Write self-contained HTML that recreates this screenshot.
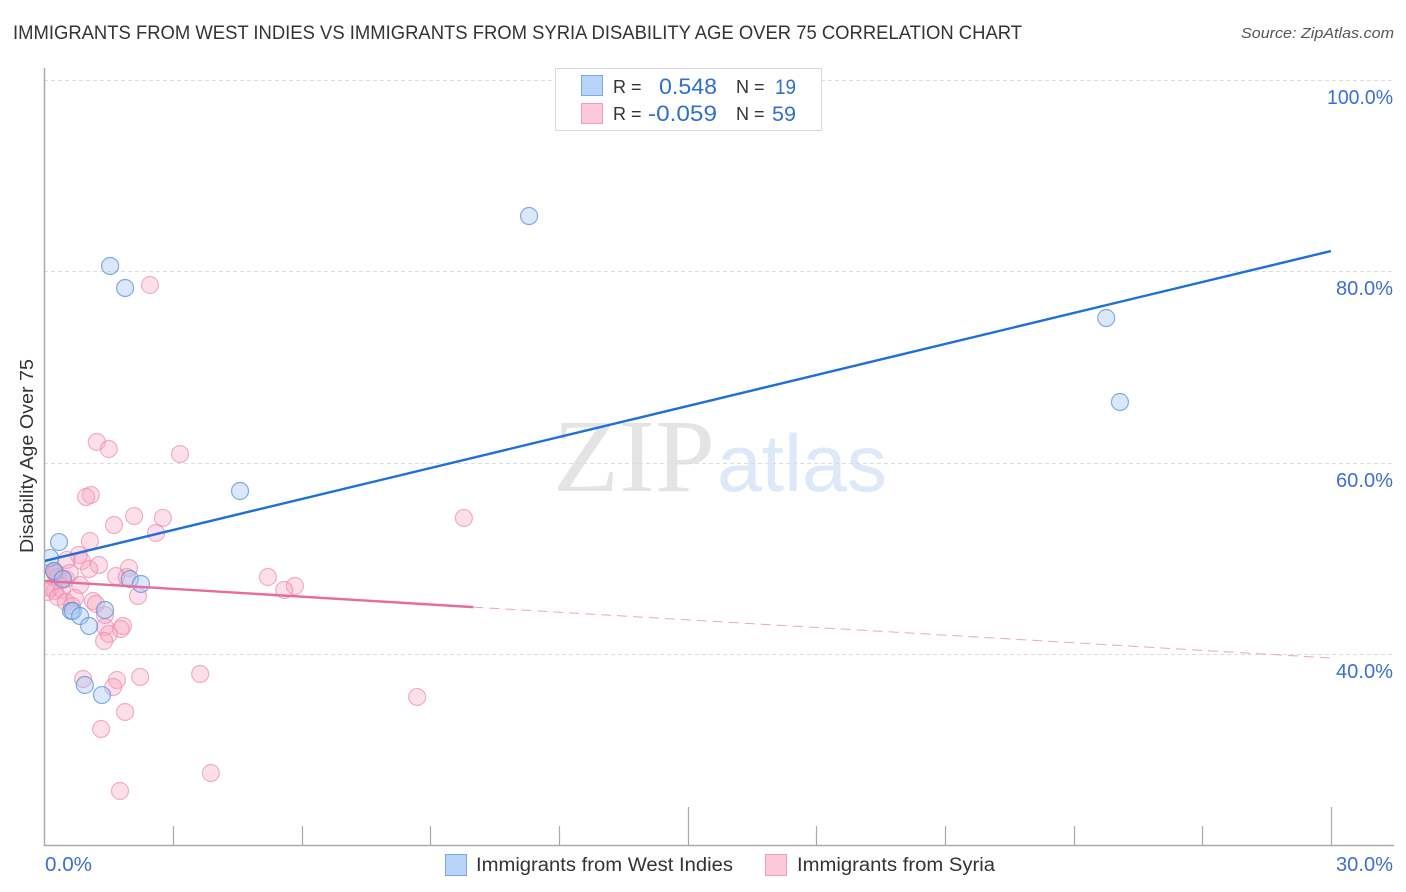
<!DOCTYPE html>
<html lang="en">
<head>
<meta charset="utf-8">
<title>Immigrants from West Indies vs Immigrants from Syria Disability Age Over 75 Correlation Chart</title>
<style>
html,body{margin:0;padding:0;background:#fff;}
svg{display:block;font-family:"Liberation Sans",Arial,sans-serif;}
</style>
</head>
<body>
<svg id="chart" xmlns="http://www.w3.org/2000/svg" width="1406" height="892" viewBox="0 0 1406 892">
  <defs>
    <clipPath id="plot-clip"><rect x="45" y="60" width="1349" height="785"/></clipPath>
  </defs>
  <rect x="0" y="0" width="1406" height="892" fill="#ffffff"/>
  <text x="13" y="39" font-size="19.5" fill="#333333" textLength="1009" lengthAdjust="spacingAndGlyphs">IMMIGRANTS FROM WEST INDIES VS IMMIGRANTS FROM SYRIA DISABILITY AGE OVER 75 CORRELATION CHART</text>
  <text x="1394" y="38" font-size="15" font-style="italic" fill="#555555" text-anchor="end" textLength="153" lengthAdjust="spacingAndGlyphs">Source: ZipAtlas.com</text>

  <g>
    <text x="553" y="491" font-family="'Liberation Serif',serif" font-size="104" fill="#e4e4e4" textLength="162" lengthAdjust="spacingAndGlyphs">ZIP</text>
    <text x="717" y="491" font-size="81" fill="#dde8f8" textLength="170" lengthAdjust="spacingAndGlyphs">atlas</text>
  </g>

  <g id="grid"></g>
  <g id="axes"></g>
  <g id="points-syria" clip-path="url(#plot-clip)"></g>
  <g id="points-west-indies" clip-path="url(#plot-clip)"></g>
  <g id="trend-lines" clip-path="url(#plot-clip)"></g>
  <g id="labels"></g>

  <text transform="translate(33,456) rotate(-90)" font-size="18" fill="#333333" text-anchor="middle" textLength="194" lengthAdjust="spacingAndGlyphs">Disability Age Over 75</text>

  <g>
    <rect x="555.5" y="68.5" width="266" height="62" fill="#ffffff" stroke="#d9d9d9" stroke-width="1"/>
    <rect x="581.5" y="75.5" width="21" height="20" fill="#b7d3f8" stroke="#7ba8e4"/>
    <rect x="581.5" y="103.5" width="21" height="20" fill="#fcc9da" stroke="#eea0bb"/>
    <text x="613" y="93" font-size="18" fill="#333333">R =</text>
    <text x="717" y="94" font-size="22" fill="#2f6fd0" text-anchor="end" textLength="58" lengthAdjust="spacingAndGlyphs">0.548</text>
    <text x="736" y="93" font-size="18" fill="#333333">N =</text>
    <text x="796" y="94" font-size="21" fill="#2f6fd0" text-anchor="end" textLength="21" lengthAdjust="spacingAndGlyphs">19</text>
    <text x="613" y="120" font-size="18" fill="#333333">R =</text>
    <text x="717" y="121" font-size="22" fill="#2f6fd0" text-anchor="end" textLength="69" lengthAdjust="spacingAndGlyphs">-0.059</text>
    <text x="736" y="120" font-size="18" fill="#333333">N =</text>
    <text x="796" y="121" font-size="21" fill="#2f6fd0" text-anchor="end" textLength="24" lengthAdjust="spacingAndGlyphs">59</text>
  </g>

  <g>
    <rect x="445.5" y="854.5" width="21" height="21" fill="#b7d3f8" stroke="#7ba8e4"/>
    <text x="476" y="871" font-size="19" fill="#333333" textLength="257" lengthAdjust="spacingAndGlyphs">Immigrants from West Indies</text>
    <rect x="765.5" y="854.5" width="21" height="21" fill="#fcc9da" stroke="#eea0bb"/>
    <text x="797" y="871" font-size="19" fill="#333333" textLength="198" lengthAdjust="spacingAndGlyphs">Immigrants from Syria</text>
  </g>
</svg>
<script>
var westIndiesX = [11.30,1.53,1.88,24.76,25.08,4.56,0.34,0.13,0.22,0.43,1.99,2.25,1.41,0.62,0.66,0.83,1.04,0.94,1.34];
var westIndiesY = [85.78,80.56,78.26,75.12,66.34,57.04,51.70,50.04,48.68,47.84,47.84,47.32,44.60,44.50,44.50,43.97,42.93,36.76,35.71];

var syriaX = [2.46,1.22,1.50,3.16,1.08,0.97,2.09,2.76,9.78,1.62,2.60,1.06,0.80,0.52,0.87,1.27,1.04,1.97,1.67,1.92,5.21,5.84,5.59,2.18,1.13,1.20,1.41,1.83,1.78,1.41,1.50,1.39,0.90,1.69,2.23,3.63,1.60,8.69,1.88,1.32,3.88,1.76,0.22,0.27,0.24,0.24,0.31,0.41,0.50,0.59,0.13,0.24,0.06,0.41,0.83,0.31,0.71,0.50,0.64];
var syriaY = [78.57,62.16,61.43,60.90,56.62,56.41,54.42,54.22,54.22,53.48,52.65,51.81,50.35,49.83,49.72,49.30,48.88,48.99,48.15,48.05,48.05,47.11,46.69,46.06,45.54,45.23,44.08,42.93,42.61,42.82,42.09,41.36,37.39,37.28,37.60,37.91,36.55,35.51,33.94,32.16,27.56,25.68,48.68,48.47,48.57,48.47,48.05,47.73,47.84,48.47,46.90,46.59,46.48,46.69,47.21,45.96,45.85,45.44,45.02];

var westIndiesTrendX = [0,30];
var westIndiesTrendY = [49.72,82.12];
var syriaTrendSolidX = [0,10];
var syriaTrendSolidY = [47.63,44.90];
var syriaTrendDashX = [10,30];
var syriaTrendDashY = [44.90,39.58];

var yTicks = [100,80,60,40];
var yTickLabels = ['100.0%','80.0%','60.0%','40.0%'];
var xTicks = [3,6,9,12,15,18,21,24,27,30];
var xMajorTicks = [15,30];
var xEndLabels = ['0.0%','30.0%'];

var SVGNS = 'http://www.w3.org/2000/svg';
function xScale(v){return 44.5 + v * 42.88;}
function yScale(v){return 654 - (v - 40) * 9.567;}
function make(tag, parent, attrs){
  var el = document.createElementNS(SVGNS, tag);
  for (var k in attrs){el.setAttribute(k, attrs[k]);}
  parent.appendChild(el);
  return el;
}
var grid = document.getElementById('grid');
var axes = document.getElementById('axes');
var labels = document.getElementById('labels');

yTicks.forEach(function(t, i){
  var y = Math.round(yScale(t)) + 0.5;
  var line = make('line', grid, {x1:44, x2:1394, y1:y, y2:y, stroke:'#dddddd', 'stroke-width':1, 'stroke-dasharray':'4 3'});
  
  
  var label = make('text', labels, {x:1393, y:y + 23.5, 'font-size':20, fill:'#3b6fd4', 'text-anchor':'end', textLength:(t === 100 ? 66 : 57), lengthAdjust:'spacingAndGlyphs'});
  label.textContent = yTickLabels[i];
  
  
});

var yAxis = make('line', axes, {x1:44.5, x2:44.5, y1:68, y2:846, stroke:'#aaaaaa', 'stroke-width':1.5});


var xAxis = make('line', axes, {x1:44, x2:1394, y1:845.5, y2:845.5, stroke:'#aaaaaa', 'stroke-width':1.5});



xTicks.forEach(function(t){
  var x = Math.round(xScale(t)) + 0.5;
  var top = xMajorTicks.indexOf(t) >= 0 ? 807 : 826;
  var tick = make('line', axes, {x1:x, x2:x, y1:top, y2:845, stroke:'#aaaaaa', 'stroke-width':1.2});
  
  
});

var x0 = make('text', labels, {x:45, y:871, 'font-size':20, fill:'#3b6fd4', textLength:47, lengthAdjust:'spacingAndGlyphs'});
x0.textContent = xEndLabels[0];


var x1 = make('text', labels, {x:1393, y:871, 'font-size':20, fill:'#3b6fd4', 'text-anchor':'end', textLength:57, lengthAdjust:'spacingAndGlyphs'});
x1.textContent = xEndLabels[1];



var syriaGroup = document.getElementById('points-syria');
syriaX.forEach(function(v, i){
  var c = make('circle', syriaGroup, {cx:xScale(v), cy:yScale(syriaY[i]), r:8.5, fill:'#f5a3bf', 'fill-opacity':0.35, stroke:'#ec89ab', 'stroke-opacity':0.65, 'stroke-width':1.2});
  
  
});
var blueGroup = document.getElementById('points-west-indies');
westIndiesX.forEach(function(v, i){
  var c = make('circle', blueGroup, {cx:xScale(v), cy:yScale(westIndiesY[i]), r:8.5, fill:'#a3c6f3', 'fill-opacity':0.4, stroke:'#5b93dd', 'stroke-opacity':0.75, 'stroke-width':1.2});
  
  
});

var trends = document.getElementById('trend-lines');
var blueLine = make('line', trends, {x1:xScale(westIndiesTrendX[0]), y1:yScale(westIndiesTrendY[0]), x2:xScale(westIndiesTrendX[1]), y2:yScale(westIndiesTrendY[1]), stroke:'#1f6fd8', 'stroke-width':2.4});


var pinkLine = make('line', trends, {x1:xScale(syriaTrendSolidX[0]), y1:yScale(syriaTrendSolidY[0]), x2:xScale(syriaTrendSolidX[1]), y2:yScale(syriaTrendSolidY[1]), stroke:'#e96a9d', 'stroke-width':2.4});


var pinkDash = make('line', trends, {x1:xScale(syriaTrendDashX[0]), y1:yScale(syriaTrendDashY[0]), x2:xScale(syriaTrendDashX[1]), y2:yScale(syriaTrendDashY[1]), stroke:'#eb8fb2', 'stroke-opacity':0.8, 'stroke-width':1, 'stroke-dasharray':'10 6'});


</script>
</body>
</html>
